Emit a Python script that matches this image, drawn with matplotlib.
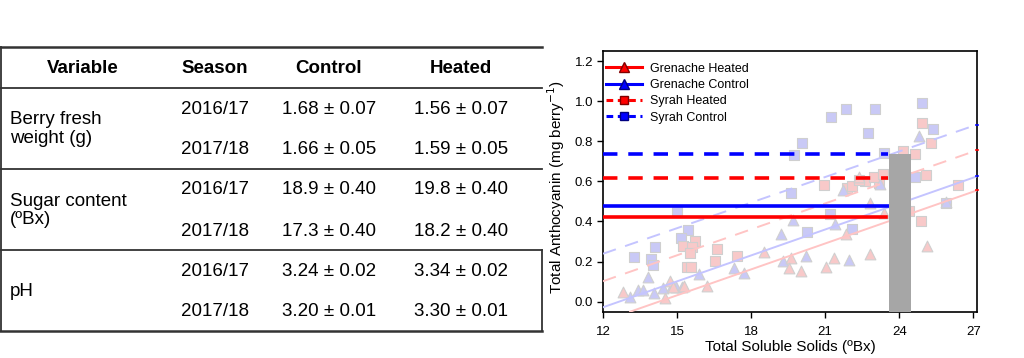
#!/usr/bin/env python3

"""berry composition table and anthocyanin vs soluble solids scatter"""

import matplotlib
matplotlib.use('Agg')
import matplotlib.pyplot as plt
from matplotlib.lines import Line2D

plt.rcParams['font.family'] = ['Liberation Sans', 'DejaVu Sans']

# table contents
headers = ['Variable', 'Season', 'Control', 'Heated']
variables = ['Berry fresh\nweight (g)', 'Sugar content\n(ºBx)', 'pH']
seasons = ['2016/17', '2017/18']
control_vals = ['1.68 ± 0.07', '1.66 ± 0.05', '18.9 ± 0.40',
                '17.3 ± 0.40', '3.24 ± 0.02', '3.20 ± 0.01']
heated_vals = ['1.56 ± 0.07', '1.59 ± 0.05', '19.8 ± 0.40',
               '18.2 ± 0.40', '3.34 ± 0.02', '3.30 ± 0.01']

# scatter data
syrah_ctrl_x = [15.01, 15.45, 15.15, 14.12, 13.24, 13.93, 14.03, 19.62, 21.18,
                20.26, 22.08, 25.89, 24.62, 21.84, 21.23, 20.05, 19.73, 23.03,
                24.94, 22.73, 25.35, 23.40]
syrah_ctrl_y = [0.445, 0.355, 0.317, 0.272, 0.222, 0.212, 0.183, 0.542, 0.437,
                0.345, 0.363, 0.492, 0.622, 0.963, 0.922, 0.792, 0.733, 0.963,
                0.992, 0.842, 0.863, 0.742]

syrah_heat_x = [15.74, 15.24, 15.62, 15.54, 16.63, 16.53, 15.42, 15.58, 17.43,
                20.96, 21.88, 22.08, 24.89, 26.38, 24.40, 22.60, 23.16, 24.92,
                25.30, 24.62, 24.15, 25.10, 22.96, 23.36, 22.35]
syrah_heat_y = [0.303, 0.280, 0.275, 0.242, 0.263, 0.203, 0.172, 0.172, 0.230,
                0.583, 0.567, 0.578, 0.403, 0.580, 0.450, 0.600, 0.590, 0.892,
                0.792, 0.737, 0.753, 0.633, 0.622, 0.638, 0.608]

gren_ctrl_x = [13.09, 13.43, 13.63, 13.81, 14.07, 14.42, 14.78, 14.95, 15.21,
               15.90, 21.74, 19.71, 21.38, 19.21, 20.23, 19.31, 21.97, 17.31,
               17.72, 25.90, 24.82, 23.23]
gren_ctrl_y = [0.025, 0.058, 0.058, 0.125, 0.045, 0.067, 0.078, 0.072, 0.072,
               0.138, 0.555, 0.405, 0.387, 0.338, 0.228, 0.205, 0.208, 0.167,
               0.145, 0.495, 0.828, 0.585]

gren_heat_x = [12.82, 14.51, 14.71, 15.30, 16.23, 18.53, 19.62, 19.54, 20.01,
               21.02, 21.34, 21.85, 22.82, 23.40, 22.82, 25.12, 22.35, 14.84]
gren_heat_y = [0.047, 0.017, 0.103, 0.078, 0.078, 0.247, 0.217, 0.167, 0.155,
               0.172, 0.217, 0.338, 0.492, 0.442, 0.238, 0.278, 0.622, 0.072]

# regression line end points (x start, y start, x end, y end)
syrah_ctrl_fit = [12.0, 0.239, 27.15, 0.883]
syrah_heat_fit = [12.0, 0.102, 27.15, 0.755]
gren_ctrl_fit = [12.0, -0.028, 27.15, 0.625]
gren_heat_fit = [13.1, -0.050, 27.15, 0.555]

# treatment means (horizontal lines)
mean_end_x = 23.55
syrah_ctrl_mean = 0.735
syrah_heat_mean = 0.615
gren_ctrl_mean = 0.478
gren_heat_mean = 0.420

# grey bar
bar_x = 24.04
bar_width = 0.88
bar_top = 0.735

fig = plt.figure(figsize=(10.24, 3.58), dpi=100)

#table drawn in pixel coordinates
tab = fig.add_axes([0, 0, 1, 1])
tab.set_xlim(0, 1024)
tab.set_ylim(358, 0)
tab.axis('off')

line_col = '#333333'
tab.plot([0, 542], [47, 47], color=line_col, lw=1.8)
for yy in [88, 169, 250]:
    tab.plot([1, 542], [yy, yy], color=line_col, lw=1.3)
tab.plot([0, 542], [331, 331], color=line_col, lw=1.8)
tab.plot([1, 1], [47, 331], color=line_col, lw=1.3)
tab.plot([542, 542], [250, 331], color=line_col, lw=1.3)

fs = 13.5
col_x = [83, 215, 329, 461]
for cx, h in zip(col_x, headers):
    tab.text(cx, 68.5, h, ha='center', va='center', fontsize=fs, fontweight='bold')

row_y = [109, 150, 190, 231, 271, 312]
var_y = [129.2, 210.5, 291.5]
for vy, v in zip(var_y, variables):
    tab.text(10, vy, v, ha='left', va='center', fontsize=fs, linespacing=1.15)
for i, ry in enumerate(row_y):
    tab.text(col_x[1], ry, seasons[i % 2], ha='center', va='center', fontsize=fs)
    tab.text(col_x[2], ry, control_vals[i], ha='center', va='center', fontsize=fs)
    tab.text(col_x[3], ry, heated_vals[i], ha='center', va='center', fontsize=fs)

#scatter plot
ax = fig.add_axes([603 / 1024, 1 - 311.7 / 358, 374 / 1024, 260.7 / 358])

lblue = '#c9c9f6'
lred = '#f8c9c9'
edge = '#cfcfcf'
ax.scatter(syrah_ctrl_x, syrah_ctrl_y, marker='s', s=52, c=lblue, edgecolors=edge, lw=0.8, zorder=2)
ax.scatter(syrah_heat_x, syrah_heat_y, marker='s', s=52, c=lred, edgecolors=edge, lw=0.8, zorder=2)
ax.scatter(gren_ctrl_x, gren_ctrl_y, marker='^', s=60, c=lblue, edgecolors=edge, lw=0.8, zorder=2)
ax.scatter(gren_heat_x, gren_heat_y, marker='^', s=60, c=lred, edgecolors=edge, lw=0.8, zorder=2)

fits = [(syrah_ctrl_fit, '#c4c4ff', 'blue', (0, (7, 5))),
        (syrah_heat_fit, '#ffc4c4', 'red', (0, (7, 5))),
        (gren_ctrl_fit, '#c4c4ff', 'blue', '-'),
        (gren_heat_fit, '#ffc4c4', 'red', '-')]
for f, c, full, ls in fits:
    ax.plot([f[0], f[2]], [f[1], f[3]], color=c, lw=1.4, ls=ls, zorder=3)
    # full colour stub where the line meets the right spine
    ax.plot([f[2] - 0.04, f[2] + 0.04], [f[3], f[3]], color=full, lw=1.2,
            clip_on=False, zorder=6)

ax.plot([12, mean_end_x], [syrah_ctrl_mean] * 2, color='blue', lw=2.6, ls=(0, (4, 3)), zorder=4)
ax.plot([12, mean_end_x], [syrah_heat_mean] * 2, color='red', lw=2.6, ls=(0, (4, 3)), zorder=4)
ax.plot([12, mean_end_x], [gren_ctrl_mean] * 2, color='blue', lw=2.6, zorder=4)
ax.plot([12, mean_end_x - 0.08], [gren_heat_mean] * 2, color='red', lw=2.6, zorder=4)

ax.bar(bar_x, bar_top + 0.05, width=bar_width, bottom=-0.05, color='#a6a6a6', zorder=5)

ax.set_xlim(12, 27.15)
ax.set_ylim(-0.05, 1.25)
ax.set_xticks([12, 15, 18, 21, 24, 27])
ax.set_yticks([0.0, 0.2, 0.4, 0.6, 0.8, 1.0, 1.2])
ax.yaxis.set_major_formatter(matplotlib.ticker.FormatStrFormatter('%.1f'))
ax.tick_params(labelsize=9.5, length=4, width=1, direction='out', pad=3)
ax.tick_params(axis='x', pad=6)
for sp in ax.spines.values():
    sp.set_linewidth(1.2)
ax.set_xlabel('Total Soluble Solids (ºBx)', fontsize=11, labelpad=2)
ax.set_ylabel('Total Anthocyanin (mg berry$^{-1}$)', fontsize=11)
ax.yaxis.set_label_coords(-0.095, 0.48)

handles = [
    Line2D([], [], color='red', lw=2.2, marker='^', ms=7, mfc='red', mec='#800000'),
    Line2D([], [], color='blue', lw=2.2, marker='^', ms=7, mfc='blue', mec='#000080'),
    Line2D([], [], color='red', lw=2.2, ls=(0, (2.2, 1.5)), marker='s', ms=6, mfc='red', mec='#800000'),
    Line2D([], [], color='blue', lw=2.2, ls=(0, (2.2, 1.5)), marker='s', ms=6, mfc='blue', mec='#000080'),
]
labels = ['Grenache Heated', 'Grenache Control', 'Syrah Heated', 'Syrah Control']
ax.legend(handles, labels, loc='upper left', frameon=False, fontsize=9,
          handlelength=2.9, handletextpad=0.6, labelspacing=0.35,
          borderaxespad=0.0, bbox_to_anchor=(-0.005, 0.975))

plt.savefig('out.png', dpi=100)
